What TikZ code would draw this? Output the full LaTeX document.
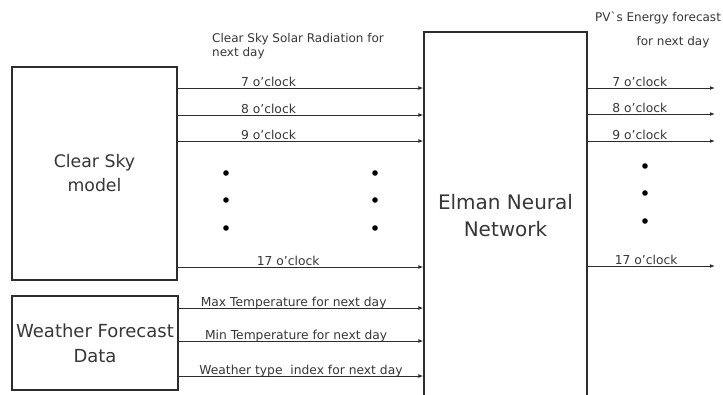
\documentclass[tikz,border=0pt]{standalone}
\usepackage{fontspec}
\setmainfont{DejaVu Sans}
\usepackage{xcolor}
\usetikzlibrary{arrows.meta,positioning}
\definecolor{lineGray}{RGB}{45,45,45}
\definecolor{textGray}{RGB}{55,55,55}

\tikzset{
  blockbox/.style={draw=lineGray, line width=1.1pt, align=center, text=textGray, inner sep=0pt},
  flowarrow/.style={draw=lineGray, line width=1pt, -{Latex[length=5pt,width=3.8pt]}},
  hourlabel/.style={text=textGray, font=\fontsize{12.3}{14}\selectfont, anchor=base, yshift=2pt, inner sep=0pt},
  headlabel/.style={text=textGray, font=\fontsize{12}{14}\selectfont, inner sep=0pt},
  dotmark/.style={fill=black}
}

\begin{document}
\begin{tikzpicture}[x=1pt,y=-1pt]
\useasboundingbox (0,0) rectangle (723,394);
\fill[white] (0,0) rectangle (723,394);

% blocks
\node[blockbox, minimum width=165pt, minimum height=213pt, font=\fontsize{17.3}{24}\selectfont] (cs) at (94.5,173.5) {Clear Sky\\model};
\node[blockbox, minimum width=166pt, minimum height=94pt, font=\fontsize{18}{25}\selectfont] (wf) at (95,343) {Weather Forecast\\Data};
\node[blockbox, minimum width=163pt, minimum height=368pt, font=\fontsize{20}{27}\selectfont] (enn) at (505.5,216) {Elman Neural\\Network};

% row heights
\coordinate (r7) at (0,88);
\coordinate (r8) at (0,115);
\coordinate (r9) at (0,141);
\coordinate (r17) at (0,267);
\coordinate (rmax) at (0,308);
\coordinate (rmin) at (0,341);
\coordinate (rtype) at (0,376);
\coordinate (o7) at (715,88);
\coordinate (o8) at (715,114);
\coordinate (o9) at (715,141);
\coordinate (o17) at (715,266);

% headings
\node[headlabel, anchor=north west, align=left] (csr) at (212,33) {Clear Sky Solar Radiation for\\next day};
\node[headlabel] (pvt) at (658,18) {PV\textasciigrave s Energy forecast};
\node[headlabel] (pvd) at (673,42) {for next day};

% inputs from clear sky model
\draw[flowarrow] (cs.east |- r7) -- node[hourlabel, pos=0.37] {7 o'clock} (enn.west |- r7);
\draw[flowarrow] (cs.east |- r8) -- node[hourlabel, pos=0.37] {8 o'clock} (enn.west |- r8);
\draw[flowarrow] (cs.east |- r9) -- node[hourlabel, pos=0.37] {9 o'clock} (enn.west |- r9);
\draw[flowarrow] (cs.east |- r17) -- node[hourlabel, pos=0.45] {17 o'clock} (enn.west |- r17);

% inputs from weather forecast
\draw[flowarrow] (wf.east |- rmax) -- node[hourlabel, pos=0.47] {Max Temperature for next day} (enn.west |- rmax);
\draw[flowarrow] (wf.east |- rmin) -- node[hourlabel, pos=0.48] {Min Temperature for next day} (enn.west |- rmin);
\draw[flowarrow] (wf.east |- rtype) -- node[hourlabel, pos=0.5] {Weather type\ \ index for next day} (enn.west |- rtype);

% outputs
\draw[flowarrow] (enn.east |- o7) -- node[hourlabel, pos=0.41] {7 o'clock} (o7);
\draw[flowarrow] (enn.east |- o8) -- node[hourlabel, pos=0.41] {8 o'clock} (o8);
\draw[flowarrow] (enn.east |- o9) -- node[hourlabel, pos=0.41] {9 o'clock} (o9);
\draw[flowarrow] (enn.east |- o17) -- node[hourlabel, pos=0.46] {17 o'clock} (o17);

% ellipsis dots
\foreach \yy in {173,200,228} {
  \fill[dotmark] (226,\yy) circle (2.8pt);
  \fill[dotmark] (375,\yy) circle (2.8pt);
}
\foreach \yy in {166,193,221}
  \fill[dotmark] (645,\yy) circle (2.8pt);
\end{tikzpicture}
\end{document}
